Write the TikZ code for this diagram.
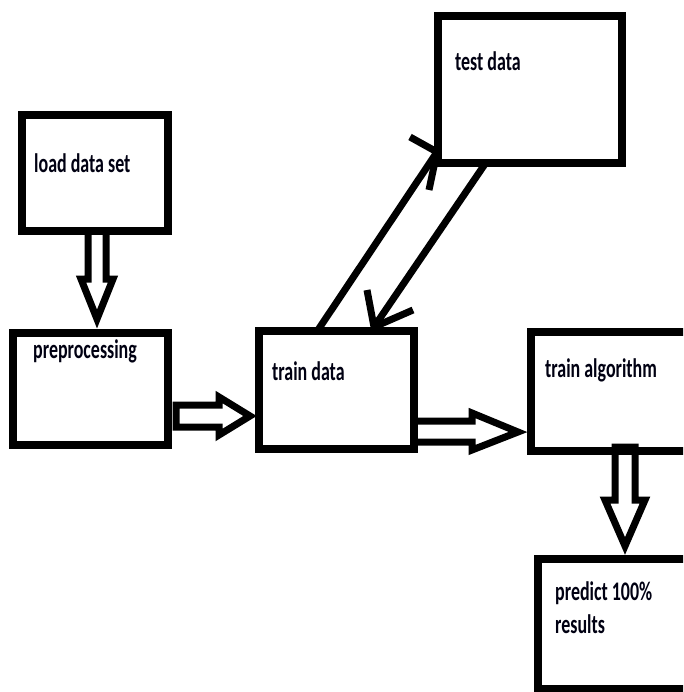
\documentclass[tikz,border=0pt]{standalone}
\usepackage{fontspec}
\usepackage{graphicx}
\setmainfont{Carlito}
\newcommand{\txt}[1]{\scalebox{0.97}[1.45]{\bfseries #1}}
\tikzset{
  box/.style={draw=black, line width=7.5pt, inner sep=0pt},
  lbl/.style={anchor=base west, inner sep=0pt, text=black!93!blue, font=\fontsize{18.5}{33}\selectfont},
  blk/.style={draw=black, line width=7pt, line join=miter, miter limit=20},
  conn/.style={draw=black, line width=7pt, line cap=butt},
  barb/.style={draw=black, line width=7pt, line cap=butt, line join=miter}
}
\begin{document}
\begin{tikzpicture}[x=1pt,y=-1pt]
\useasboundingbox (0,0) rectangle (683,692);
\clip (0,0) rectangle (683,692);
\fill[white] (0,0) rectangle (683,692);

% boxes
\node[box, minimum width=146pt, minimum height=116pt] (load) at (95,173) {};
\node[box, minimum width=155pt, minimum height=112pt] (prep) at (90.5,389) {};
\node[box, minimum width=155pt, minimum height=118pt] (train) at (336.5,390) {};
\node[box, minimum width=184pt, minimum height=147pt] (test) at (530,89.5) {};
\node[box, minimum width=189pt, minimum height=119pt] (algo) at (625.5,391.5) {};
\node[box, minimum width=182pt, minimum height=130pt] (pred) at (629,624) {};

% labels
\node[lbl] (loadt) at (34,173) {\txt{load data set}};
\node[lbl] (prept) at (33,358) {\txt{preprocessing}};
\node[lbl] (traint) at (272,380) {\txt{train data}};
\node[lbl] (testt) at (455,71) {\txt{test data}};
\node[lbl] (algot) at (545,377) {\txt{train algorithm}};
\node[lbl] (predt) at (555,600) {\txt{predict 100\%}};
\node[lbl] (predt2) at (555,633) {\txt{results}};

% block arrows
\draw[blk] (88,231) -- (88,279) -- (81,279) -- (97,319) -- (113,279) -- (106,279) -- (106,231);
\draw[blk] (176,405) -- (219,405) -- (219,397) -- (250,416) -- (219,435) -- (219,427) -- (176,427) -- cycle;
\draw[blk] (414,421) -- (472,421) -- (472,413) -- (518,432) -- (472,450) -- (472,442) -- (414,442);
\draw[blk] (615,447) -- (615,500) -- (605,500) -- (625,546) -- (645,500) -- (635,500) -- (635,447) -- cycle;

% line arrows between train and test
\coordinate (s1) at (318,330);
\coordinate (e1) at (437,152);
\coordinate (w1a) at (410,137);
\coordinate (w1b) at (429,190);
\draw[conn] (s1) -- (e1);
\draw[barb] (w1a) -- (e1) -- (w1b);

\coordinate (s2) at (485,164);
\coordinate (e2) at (374,327);
\coordinate (w2a) at (367,290);
\coordinate (w2b) at (413,310);
\draw[conn] (s2) -- (e2);
\draw[barb] (w2a) -- (e2) -- (w2b);
\end{tikzpicture}
\end{document}
